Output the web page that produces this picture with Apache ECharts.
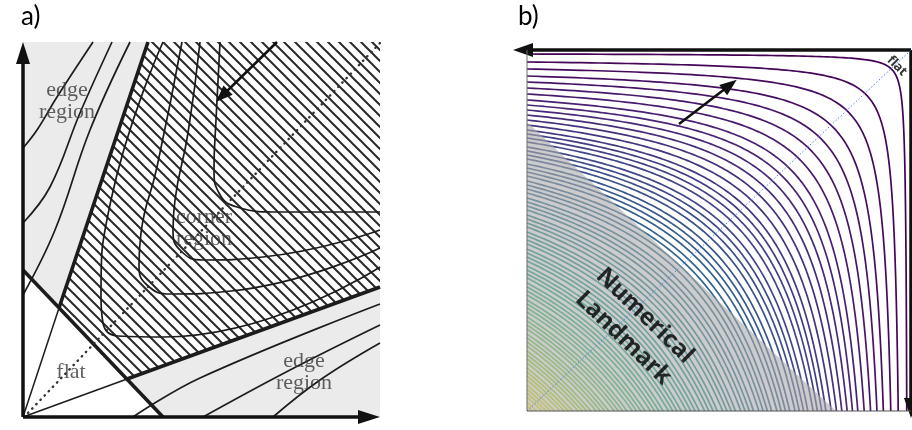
<!DOCTYPE html>
<html><head><meta charset="utf-8">
<script src="https://cdn.jsdelivr.net/npm/echarts@6/dist/echarts.min.js"></script>
<style>html,body{margin:0;padding:0;background:#fff}#chart{width:912px;height:430px}</style>
</head><body><div id="chart"></div>
<script>
// ================= Panel a) (units: distance from the axes origin, read off the picture) =================
const flatBoundaryA   = [[0,147],[140,0]];
const upperRayThinA   = [[0,0],[36,109]];
const upperRayThickA  = [[36,109],[125,375]];
const lowerRayThinA   = [[0,0],[104,38]];
const lowerRayThickA  = [[104,38],[357,130]];
const edgeCurvesUpperA = [
  [[0,269],[14,287],[34,320],[70,375]],
  [[0,194],[27,230],[57,304],[89,375]],
  [[0,122],[32,187],[67,287],[107,375]]
];
const edgeCurvesLowerA = [
  [[110,0],[177,39],[357,113]],
  [[180,0],[267,47],[357,92]],
  [[250,0],[297,37],[357,74]]
];
const cornerCurvesA = [
  [[197,375],[193,297],[191,247],[196,224],[214,210],[252,205],[357,205]],
  [[177,375],[165,284],[152,217],[150,186],[158,166],[180,157],[240,160],[357,187]],
  [[159,375],[134,250],[118,184],[116,152],[124,132],[148,123],[208,126],[357,169]],
  [[140,375],[88,217],[78,120],[80,94],[95,81],[140,80],[357,150]]
];
const diagonalA   = [[5,4],[357,374]];
const squareA     = [[0,0],[0,375],[357,375],[357,0]];
const flatZoneA   = [[0,0],[0,147],[140,0]];
const cornerZoneA = [[36,109],[125,375],[357,375],[357,130],[104,38]];
const labelsA = [
  {name:'edge\nregion',   value:[44,316]},
  {name:'corner\nregion', value:[181,189]},
  {name:'flat',           value:[48,45]},
  {name:'edge\nregion',   value:[281,45]}
];

// ================= Panel b) (u: distance leftwards from right axis, v: distance down from top axis) =================
const boxB = {u:384, v:361};
// where each contour meets the left border (distance below the top axis)
const leftEdgeHitsB = [4,12,19,26,32,38,44,50,55,60,65,70,75,80,84,88,92,97,101,105,109,114,118,122,126,131,135,139,143,148,152,156,160,165,169,173,177,182,186,190,194,199,203,207,211,216,220,224,228,233,237,241,245,250,254,258,262,267,271,275,279,284,288,292,296,301,305,309,313,318,322,326,330,335,339,343,347,352,356];
const contourShapeB = 0.3;
const diagonalB  = [[384,361],[0,0]];
const greyZoneB  = [[384,72],[75,361],[384,361]];
const leftBorderB   = [[384,0],[384,361]];
const bottomBorderB = [[0,361],[384,361]];
const viridisStops = ['#440154','#482475','#414487','#355f8d','#2a788e','#21918c','#22a884','#44bf70','#7ad151','#bddf26','#fde725'];

// ---------- helpers ----------
function hexToRgb(h){return [1,3,5].map(i=>parseInt(h.substr(i,2),16));}
function viridis(t){
  const x = Math.max(0,Math.min(1,t))*(viridisStops.length-1);
  const i = Math.min(viridisStops.length-2, Math.floor(x)), f = x-i;
  const a = hexToRgb(viridisStops[i]), b = hexToRgb(viridisStops[i+1]);
  return 'rgb('+a.map((c,k)=>Math.round(c+(b[k]-c)*f)).join(',')+')';
}
function contourLine(vL){
  const a = contourShapeB;
  const C = 1 + Math.pow(vL/boxB.v, -a);
  const d = Math.pow(C/2, -1/a);
  const half = [], n = 70;
  for (let i=0;i<=n;i++){
    const u = d*Math.pow(1/d, i/n);
    const t = C - Math.pow(u,-a);
    const v = i===0 ? d : Math.pow(t,-1/a);
    half.push([u,v]);
  }
  const pts = [];
  for (let i=half.length-1;i>=0;i--) pts.push([half[i][0]*boxB.u, half[i][1]*boxB.v]);
  for (let i=1;i<half.length;i++) pts.push([half[i][1]*boxB.u, half[i][0]*boxB.v]);
  return pts;
}
function hatchPattern(){
  const s=11, c=document.createElement('canvas'); c.width=s; c.height=s;
  const g=c.getContext('2d'); g.fillStyle='#ffffff'; g.fillRect(0,0,s,s);
  g.strokeStyle='#2a2a2a'; g.lineWidth=2; g.beginPath();
  for (let k=-1;k<=1;k++){ g.moveTo(k*s-1,-1); g.lineTo(k*s+s+1,s+1); }
  g.stroke(); return c;
}
function polygon(pts, style, idx, z){
  return {type:'custom', coordinateSystem:'cartesian2d', xAxisIndex:idx, yAxisIndex:idx, silent:true, clip:false, z:z||2,
    data:[pts[0]], renderItem:(p,api)=>({type:'polygon', shape:{points:pts.map(q=>api.coord(q))}, style})};
}
function line(data, idx, style, smooth, z){
  return {type:'line', xAxisIndex:idx, yAxisIndex:idx, data, showSymbol:false, symbol:'none', silent:true, z:z||2,
    smooth: smooth||false, lineStyle:style, clip:false};
}
function arrows(idx, list){
  return {type:'line', xAxisIndex:idx, yAxisIndex:idx, data:[], silent:true, z:6,
    markLine:{silent:true, animation:false, symbol:['none','triangle'], label:{show:false}, emphasis:{disabled:true},
      data:list.map(o=>[{coord:o.from, symbolSize:o.head, lineStyle:{color:'#111', width:o.w, type:'solid'}},
                        {coord:o.to, symbolSize:o.head}])}};
}
function labels(idx, data, lab){
  return {type:'scatter', xAxisIndex:idx, yAxisIndex:idx, data, symbolSize:1, silent:true, z:10,
    itemStyle:{color:'rgba(0,0,0,0)'},
    label:Object.assign({show:true, position:'inside', formatter:'{b}', textBorderWidth:0, textBorderColor:'transparent', textShadowBlur:0}, lab)};
}

const inkA = '#1c1c1c';
const series = [];
// panel a backgrounds
series.push(polygon(squareA, {fill:'#ebebeb'}, 0, 1));
series.push(polygon(flatZoneA, {fill:'#ffffff'}, 0, 1));
series.push(polygon(cornerZoneA, {fill:{image:hatchPattern(), repeat:'repeat'}}, 0, 1));
// panel a curves
edgeCurvesUpperA.concat(edgeCurvesLowerA).forEach(c=>series.push(line(c,0,{color:inkA,width:1.7},0.4)));
cornerCurvesA.forEach(c=>series.push(line(c,0,{color:inkA,width:1.7},0.5)));
series.push(line(upperRayThinA,0,{color:inkA,width:1.5}));
series.push(line(lowerRayThinA,0,{color:inkA,width:1.5}));
series.push(line(upperRayThickA,0,{color:inkA,width:3.6}));
series.push(line(lowerRayThickA,0,{color:inkA,width:3.6}));
series.push(line(flatBoundaryA,0,{color:inkA,width:3.6}));
series.push(line(diagonalA,0,{color:'#333',width:2.4,type:[0.5,5.5],cap:'round'}));
series.push(arrows(0,[
  {from:[0,0], to:[0,364], w:3.5, head:[14,22]},
  {from:[0,0], to:[346,0], w:3.5, head:[14,22]},
  {from:[254,375], to:[199,321], w:2.5, head:[13,17]}
]));
series.push(labels(0, labelsA, {fontFamily:'Liberation Serif', fontSize:22, lineHeight:22, color:'#3a3a3a'}));

// panel b contours
leftEdgeHitsB.forEach((vL,i)=>series.push(line(contourLine(vL),1,{color:viridis(i/(leftEdgeHitsB.length-1)),width:1.7},false,2)));
series.push(polygon(greyZoneB, {fill:'rgba(170,170,170,0.6)'}, 1, 4));
series.push(line(diagonalB,1,{color:'#4f7fe0',width:1,type:[1.5,2]},false,5));
series.push(line(leftBorderB,1,{color:'#6d6d6d',width:1},false,5));
series.push(line(bottomBorderB,1,{color:'#555',width:1.2},false,5));
series.push(arrows(1,[
  {from:[0,0], to:[388,0], w:3.5, head:[14,20]},
  {from:[0,0], to:[0,358], w:3.5, head:[14,20]},
  {from:[232,74], to:[181,35], w:2.6, head:[13,17]}
]));
series.push(labels(1, [{name:'flat', value:[14,16]}], {fontFamily:'Open Sans', fontWeight:700, fontSize:13, color:'#000', rotate:-45}));
series.push(labels(1, [{name:'Numerical\nLandmark', value:[277,277]}], {fontFamily:'Open Sans', fontWeight:700, fontSize:24, lineHeight:31, color:'#000', rotate:-44}));

const chart = echarts.init(document.getElementById('chart'), null, {renderer:'canvas'});
chart.setOption({
  animation:false,
  grid:[
    {left:23, top:42, width:357, height:375},
    {left:505, top:50, width:406, height:380}
  ],
  xAxis:[
    {gridIndex:0, type:'value', min:0, max:357, show:false},
    {gridIndex:1, type:'value', min:0, max:406, inverse:true, show:false}
  ],
  yAxis:[
    {gridIndex:0, type:'value', min:0, max:375, show:false},
    {gridIndex:1, type:'value', min:0, max:380, inverse:true, show:false}
  ],
  graphic:[
    {type:'text', left:21, top:4, style:{text:'a)', font:'26px Lato', fill:'#000'}},
    {type:'text', left:518, top:4, style:{text:'b)', font:'26px Lato', fill:'#000'}}
  ],
  series
});
</script></body></html>
